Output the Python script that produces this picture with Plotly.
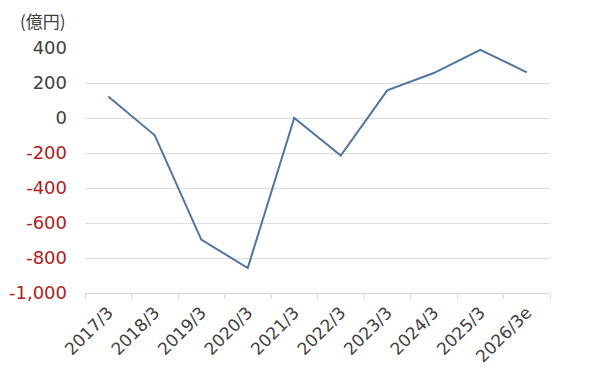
import plotly.graph_objects as go

categories = ["2017/3", "2018/3", "2019/3", "2020/3", "2021/3", "2022/3",
              "2023/3", "2024/3", "2025/3", "2026/3e"]
values = [123, -99, -695, -857, 0, -215, 158, 257, 390, 261]
tick_vals = [400, 200, 0, -200, -400, -600, -800, -1000]
tick_labels = ["400", "200", "0", "-200", "-400", "-600", "-800", "-1,000"]

pos_color = "#404040"
neg_color = "#b01c1c"
tick_text = [
    f'<span style="color:{neg_color}">{t}</span>' if v < 0 else t
    for v, t in zip(tick_vals, tick_labels)
]

FONT = "DejaVu Sans, Noto Sans CJK JP, sans-serif"

fig = go.Figure()
fig.add_trace(go.Scatter(
    x=categories, y=values, mode="lines",
    line=dict(color="#4f75a0", width=2),
    hoverinfo="skip", showlegend=False,
))

fig.update_layout(
    width=600, height=390,
    margin=dict(l=77, r=58, t=40, b=105),
    paper_bgcolor="white", plot_bgcolor="white",
    font=dict(family=FONT, color=pos_color),
    xaxis=dict(
        type="category", tickangle=-45, tickson="boundaries",
        ticks="outside", ticklen=5, tickcolor="#d9d9d9",
        showline=True, linecolor="#d9d9d9", linewidth=1,
        showgrid=False, tickfont=dict(size=17, color="#404040"),
        ticklabelstandoff=2,
        range=[-0.5, len(categories) - 0.5], automargin=False,
    ),
    yaxis=dict(
        range=[-1000, 400], tickvals=tick_vals, ticktext=tick_text,
        showgrid=True, gridcolor="#dcdcdc", gridwidth=1,
        zeroline=False, showline=False, ticks="",
        tickfont=dict(size=18, color=pos_color), ticklabelstandoff=17,
        automargin=False,
    ),
    annotations=[dict(
        text="(億円)", xref="paper", yref="paper", x=-0.145, y=1.112,
        xanchor="left", yanchor="middle", showarrow=False,
        font=dict(size=17, color=pos_color, family="Noto Sans CJK JP, sans-serif"),
    )],
)

fig.write_html("out.html")
